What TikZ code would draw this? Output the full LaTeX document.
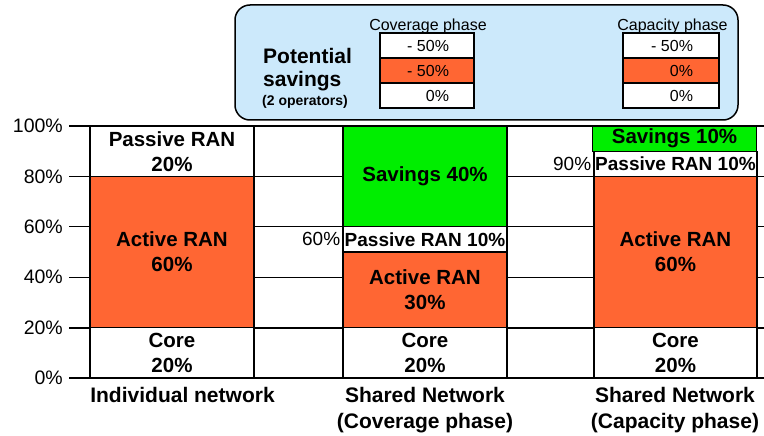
\documentclass[tikz,border=0pt]{standalone}
\usepackage{fontspec}
\setmainfont{Liberation Sans}
\definecolor{ranorange}{HTML}{FF6633}
\definecolor{savgreen}{HTML}{00EE00}
\definecolor{panelblue}{HTML}{CCE9FB}
\newcommand\sz[2]{\fontsize{#1}{#2}\selectfont}
\tikzset{
  gridrule/.style={line width=1.2pt},
  seg/.style={draw=black, line width=1.2pt, inner sep=0pt, align=center,
    font=\bfseries\sz{20.5}{25}},
  orangeseg/.style={seg, fill=ranorange},
  whiteseg/.style={seg, fill=white},
  greenseg/.style={seg, fill=savgreen},
  axislbl/.style={inner sep=0pt, anchor=east, font=\sz{19.5}{20}},
  catlbl/.style={inner sep=0pt, anchor=base, font=\bfseries\sz{21}{21}},
  cell/.style={draw=black, line width=1.2pt, inner sep=0pt, minimum height=25pt,
    font=\sz{16}{16}},
  cellhead/.style={inner sep=0pt, anchor=base, font=\sz{16}{16}},
  paneltxt/.style={inner sep=0pt, anchor=base west, font=\bfseries\sz{21}{21}},
}
\begin{document}
\begin{tikzpicture}[x=1pt, y=-1pt]
\useasboundingbox (0,0) rectangle (764,436);
\fill[white] (0,0) rectangle (764,436);

% horizontal grid, 20% per step (0% at y=378, 100% at y=126)
\foreach \p in {0,40,60,80,100}
  \draw[gridrule] (69,{378-2.52*\p}) -- (764,{378-2.52*\p});
\draw[line width=2pt] (69,327.6) -- (764,327.6);

% axis labels
\foreach \p in {0,20,...,100}
  \node[axislbl] (ax\p) at (63,{378-2.52*\p}) {\p\%};

% individual network
\node[whiteseg, minimum width=164pt, minimum height=50.4pt] (core1) at (172,352.8) {Core\\20\%};
\node[orangeseg, minimum width=164pt, minimum height=151.2pt] (act1) at (172,252) {Active RAN\\60\%};
\node[whiteseg, minimum width=164pt, minimum height=50.4pt] (pas1) at (172,151.2) {Passive RAN\\20\%};

% shared network, coverage phase
\node[whiteseg, minimum width=164pt, minimum height=50.4pt] (core2) at (425,352.8) {Core\\20\%};
\node[orangeseg, minimum width=164pt, minimum height=75.6pt] (act2) at (425,289.8) {Active RAN\\30\%};
\node[whiteseg, minimum width=164pt, minimum height=25.2pt, font=\bfseries\sz{19}{19}] (pas2) at (425,239.4) {Passive RAN 10\%};
\node[greenseg, minimum width=164pt, minimum height=100.8pt] (sav2) at (425,176.4) {Savings 40\%};
\node[inner sep=0pt, anchor=east, font=\sz{19}{19}] (lvl60) at ([xshift=-2pt]pas2.west) {60\%};

% shared network, capacity phase
\node[whiteseg, minimum width=163pt, minimum height=50.4pt] (core3) at (675.5,352.8) {Core\\20\%};
\node[orangeseg, minimum width=163pt, minimum height=151.2pt] (act3) at (675.5,252) {Active RAN\\60\%};
\node[whiteseg, minimum width=163pt, minimum height=25.2pt, font=\bfseries\sz{19}{19}] (pas3) at (675.5,163.8) {Passive RAN 10\%};
\node[greenseg, minimum width=164pt, minimum height=25.2pt] (sav3) at (674.5,138.6) {Savings 10\%};
\node[inner sep=0pt, anchor=east, font=\sz{19}{19}] (lvl90) at ([xshift=-2pt]pas3.west) {90\%};

% category labels
\node[catlbl] (cat1) at (182.5,402) {Individual network};
\node[catlbl] (cat2a) at (425,402) {Shared Network};
\node[catlbl] (cat2b) at (425,428) {(Coverage phase)};
\node[catlbl] (cat3a) at (675,402) {Shared Network};
\node[catlbl] (cat3b) at (675,428) {(Capacity phase)};

% savings panel
\node[draw=black, line width=1.5pt, rounded corners=15pt, fill=panelblue,
  minimum width=503pt, minimum height=115pt, inner sep=0pt] (panel) at (486.5,62.5) {};
\node[paneltxt] (pot) at (263,64) {Potential};
\node[paneltxt] (savtxt) at (263,87) {savings};
\node[paneltxt, font=\bfseries\sz{14}{14}] (ops) at (262,106) {(2 operators)};

% coverage phase table
\node[cell, fill=white, minimum width=94pt] (cv1) at (427,45.5) {\makebox[44pt][r]{- 50\%}};
\node[cell, fill=ranorange, minimum width=94pt] (cv2) at (427,70.5) {\makebox[44pt][r]{- 50\%}};
\node[cell, fill=white, minimum width=94pt] (cv3) at (427,95.5) {\makebox[44pt][r]{0\%}};
\node[cellhead] (cvhead) at (428,31) {Coverage phase};

% capacity phase table
\node[cell, fill=white, minimum width=96pt] (cp1) at (671,45.5) {\makebox[44pt][r]{- 50\%}};
\node[cell, fill=ranorange, minimum width=96pt] (cp2) at (671,70.5) {\makebox[44pt][r]{0\%}};
\node[cell, fill=white, minimum width=96pt] (cp3) at (671,95.5) {\makebox[44pt][r]{0\%}};
\node[cellhead] (cphead) at (672.5,31) {Capacity phase};
\end{tikzpicture}
\end{document}
